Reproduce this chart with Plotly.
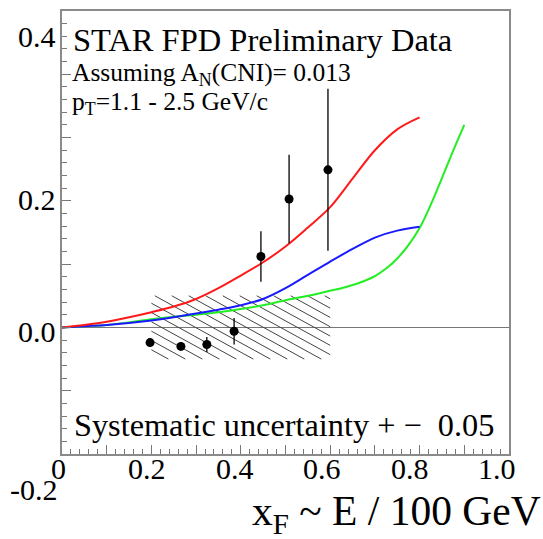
import numpy as np
import plotly.graph_objects as go

# ---------------- data ----------------
data_x = [0.197, 0.266, 0.324, 0.385, 0.445, 0.508, 0.595]
data_y = [-0.024, -0.030, -0.027, -0.006, 0.112, 0.203, 0.249]
data_err = [0.006, 0.006, 0.012, 0.021, 0.040, 0.070, 0.128]

red_x = [0.0, 0.05, 0.1, 0.15, 0.2, 0.25, 0.3, 0.35, 0.4, 0.45, 0.5, 0.55, 0.6, 0.65, 0.7, 0.75, 0.8]
red_y = [0.0, 0.004, 0.009, 0.016, 0.024, 0.033, 0.045, 0.062, 0.082, 0.103, 0.128, 0.158, 0.19, 0.235, 0.28, 0.313, 0.332]

blue_x = [0.0, 0.05, 0.1, 0.15, 0.2, 0.25, 0.3, 0.35, 0.4, 0.45, 0.5, 0.55, 0.6, 0.65, 0.7, 0.75, 0.8]
blue_y = [0.0, 0.002, 0.004, 0.007, 0.011, 0.016, 0.022, 0.028, 0.035, 0.045, 0.062, 0.083, 0.104, 0.124, 0.142, 0.153, 0.159]

green_x = [0.0, 0.05, 0.1, 0.15, 0.2, 0.25, 0.3, 0.35, 0.4, 0.45, 0.5, 0.55, 0.6, 0.625, 0.65, 0.675, 0.7, 0.725, 0.75, 0.775, 0.8, 0.825, 0.85, 0.875, 0.9]
green_y = [0.0, 0.002, 0.004, 0.008, 0.013, 0.017, 0.020, 0.024, 0.029, 0.035, 0.043, 0.050, 0.058, 0.062, 0.067, 0.073, 0.081, 0.093, 0.109, 0.130, 0.157, 0.194, 0.236, 0.279, 0.320]

syst_x_range = [0.2, 0.6]
syst_value = 0.05

x_tick_labels = ["0", "0.2", "0.4", "0.6", "0.8", "1.0"]
y_tick_labels = ["0.4", "0.2", "0.0", "-0.2"]

# ---------------- layout geometry ----------------
W, H = 543, 539
L, R, T, B = 62, 34, 9, 85
PW, PH = W - L - R, H - T - B
XR = [0.0, 1.0]
YR = [-0.2, 0.5]


def px(xp):
    return (xp - L) / PW


def py(yp):
    return (H - B - yp) / PH


FONT = "Liberation Serif"

fig = go.Figure()

# hatched systematic box
x0, x1 = syst_x_range
yt, yb = syst_value, -syst_value
k = 0.387          # slope of hatch lines (data units)
step = 0.038       # horizontal spacing of hatch lines
hx, hy = [], []
for c in np.arange(x0 - (yt - yb) / k, x1, step):
    a = max(x0, c)
    b = min(x1, c + (yt - yb) / k)
    if b > a:
        hx += [a, b, None]
        hy += [yt - k * (a - c), yt - k * (b - c), None]
fig.add_trace(go.Scatter(x=hx, y=hy, mode="lines",
                         line=dict(color="#444444", width=1), hoverinfo="skip"))

# theory curves
fig.add_trace(go.Scatter(x=green_x, y=green_y, mode="lines",
                         line=dict(color="#22ee22", width=2, shape="spline", smoothing=1.0)))
fig.add_trace(go.Scatter(x=blue_x, y=blue_y, mode="lines",
                         line=dict(color="#1a1aff", width=2, shape="spline")))
fig.add_trace(go.Scatter(x=red_x, y=red_y, mode="lines",
                         line=dict(color="#ff1a1a", width=2, shape="spline")))

# data points
fig.add_trace(go.Scatter(x=data_x, y=data_y, mode="markers",
                         marker=dict(color="black", size=9),
                         error_y=dict(type="data", array=data_err, color="black",
                                      thickness=1.3, width=0)))

axis_common = dict(showgrid=False, showline=True, linecolor="#8a8a8a", linewidth=2,
                   mirror=True, ticks="inside", tickcolor="#777777", ticklen=9,
                   tickwidth=1, showticklabels=False, dtick=0.1,
                   minor=dict(ticks="inside", ticklen=5, dtick=0.02, tickcolor="#777777"))

fig.update_xaxes(range=XR, tick0=0, **axis_common, zeroline=False)
fig.update_yaxes(range=YR, tick0=0, **axis_common, zeroline=True,
                 zerolinecolor="#777777", zerolinewidth=1)

annots = []


def add_text(text, xp, yp, size, xanchor="left"):
    annots.append(dict(text=text, x=px(xp), y=py(yp), xref="paper", yref="paper",
                       xanchor=xanchor, yanchor="middle", showarrow=False,
                       font=dict(family=FONT, size=size, color="black")))


add_text("STAR FPD Preliminary Data", 71, 38, 32.5)
add_text("Assuming A<sub>N</sub>(CNI)= 0.013", 70, 72, 25.5)
add_text("p<sub>T</sub>=1.1 - 2.5 GeV/c", 70, 101, 25.5)
add_text("Systematic uncertainty + \u2212  0.05", 72, 425, 32.3)
add_text("x<sub>F</sub> ~ E / 100 GeV", 543, 514, 41.5, xanchor="right")

# tick labels (manually placed as in the original)
x_label_pos = [58, 147, 235, 322, 410, 497]
for lab, xp in zip(x_tick_labels, x_label_pos):
    add_text(lab, xp, 469, 30, xanchor="center")
y_label_pos = [(58, 35), (58, 198), (58, 331), (60, 490)]
for lab, (xp, yp) in zip(y_tick_labels, y_label_pos):
    add_text(lab, xp, yp, 30, xanchor="right")

fig.update_layout(width=W, height=H, margin=dict(l=L, r=R, t=T, b=B),
                  plot_bgcolor="white", paper_bgcolor="white",
                  showlegend=False, annotations=annots)

fig.write_html("out.html")
